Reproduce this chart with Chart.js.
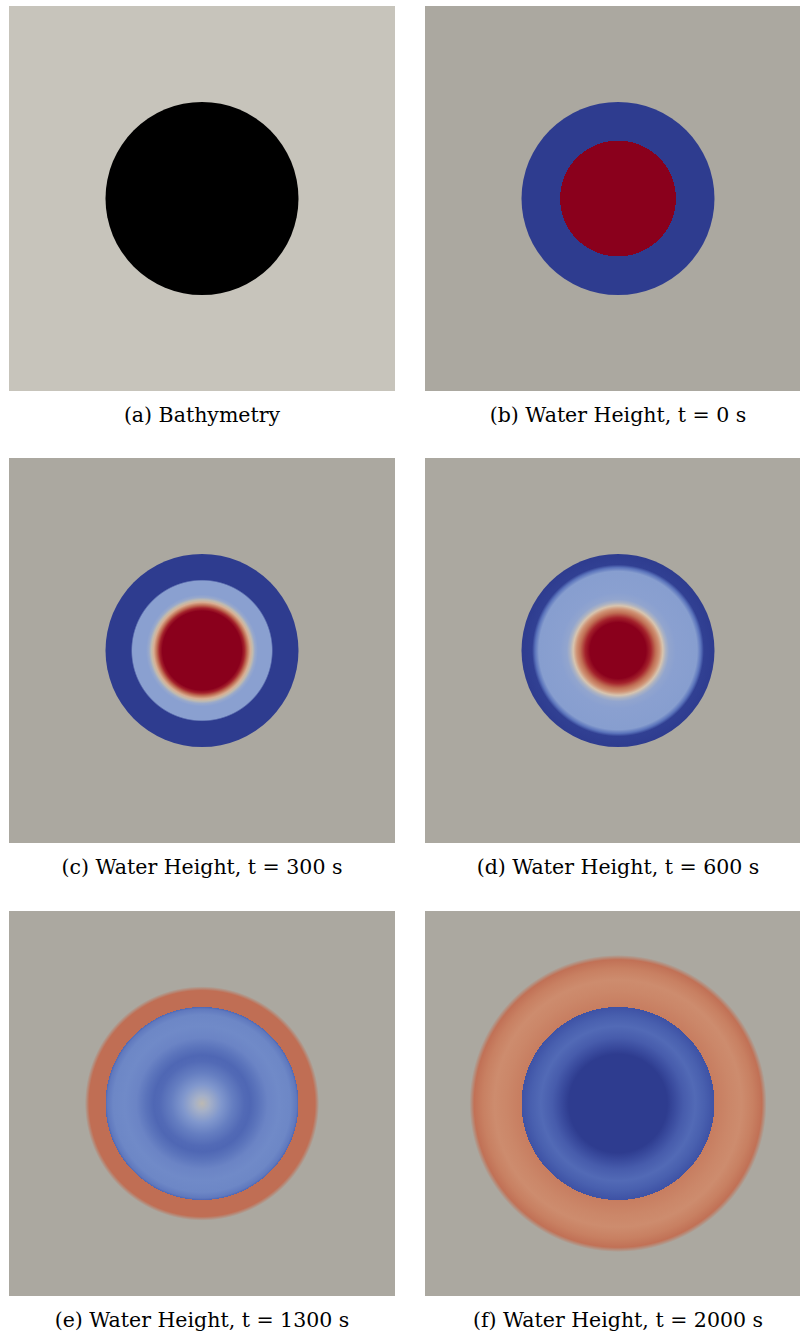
<!DOCTYPE html>
<html>
<head>
<meta charset="utf-8">
<title>Radially symmetric basin: bathymetry and water height</title>
<script src="https://cdn.jsdelivr.net/npm/chart.js@4/dist/chart.umd.min.js"></script>
<style>
  html, body { margin: 0; padding: 0; background: #ffffff; }
  body { position: relative; width: 800px; height: 1338px; overflow: hidden; }
  .panel { position: absolute; width: 386px; height: 385px; }
  .panel canvas { display: block; }
  .cap {
    position: absolute; width: 386px; text-align: center; white-space: nowrap;
    font-family: "DejaVu Serif", "Liberation Serif", serif; font-size: 20.5px;
    line-height: 26px; color: #000;
  }
</style>
</head>
<body>
<script>
// ---- data (radii in domain units, domain spans -1..1 on both axes) ----
const panelCaptions = [
  '(a) Bathymetry',
  '(b) Water Height, t = 0 s',
  '(c) Water Height, t = 300 s',
  '(d) Water Height, t = 600 s',
  '(e) Water Height, t = 1300 s',
  '(f) Water Height, t = 2000 s'
];

// bathymetry: circular basin (normalised depth)
const bathyR     = [0, 0.50];
const bathyDepth = [1, 1];

// normalised water height along the radius, per output time
const r_t0    = [0, 0.30, 0.30, 0.50];
const h_t0    = [1, 1, 0, 0];

const r_t300  = [0, 0.205, 0.220, 0.235, 0.250, 0.262, 0.275, 0.290, 0.360, 0.368, 0.50];
const h_t300  = [1, 1, 0.90, 0.75, 0.60, 0.50, 0.42, 0.38, 0.38, 0.0, 0.0];

const r_t600  = [0, 0.145, 0.170, 0.195, 0.215, 0.232, 0.248, 0.265, 0.300, 0.410, 0.430, 0.445, 0.50];
const h_t600  = [1, 1, 0.90, 0.76, 0.64, 0.54, 0.46, 0.40, 0.38, 0.37, 0.20, 0.02, 0.0];

const r_t1300 = [0, 0.04, 0.10, 0.16, 0.22, 0.25, 0.29, 0.34, 0.40, 0.46, 0.49, 0.50, 0.50, 0.585];
const h_t1300 = [0.49, 0.45, 0.34, 0.24, 0.17, 0.16, 0.20, 0.26, 0.28, 0.27, 0.22, 0.16, 0.76, 0.76];

const r_t2000 = [0, 0.255, 0.29, 0.34, 0.40, 0.45, 0.50, 0.50, 0.58, 0.64, 0.70, 0.745];
const h_t2000 = [0, 0, 0.06, 0.13, 0.17, 0.14, 0.10, 0.71, 0.68, 0.665, 0.70, 0.75];

// ---- styling ----
const landColor  = [199, 196, 187];
const groundGray = '#aba8a0';

// diverging blue -> neutral -> red map for water height
const heightMap = [
  [0.00, [46, 60, 143]],
  [0.10, [62, 82, 165]],
  [0.17, [82, 106, 182]],
  [0.28, [112, 138, 200]],
  [0.38, [138, 160, 208]],
  [0.45, [165, 176, 200]],
  [0.50, [194, 187, 174]],
  [0.56, [226, 200, 175]],
  [0.64, [208, 148, 118]],
  [0.70, [200, 128, 98]],
  [0.76, [192, 110, 84]],
  [0.85, [180, 60, 55]],
  [0.93, [155, 20, 38]],
  [1.00, [138, 0, 28]]
];

function rgba(c, a) {
  return 'rgba(' + Math.round(c[0]) + ',' + Math.round(c[1]) + ',' + Math.round(c[2]) + ',' + a + ')';
}

function heightColor(v, a) {
  for (let i = 1; i < heightMap.length; i++) {
    const [v1, c1] = heightMap[i];
    const [v0, c0] = heightMap[i - 1];
    if (v <= v1) {
      const t = (v - v0) / (v1 - v0);
      return rgba([0, 1, 2].map(k => c0[k] + (c1[k] - c0[k]) * t), a);
    }
  }
  return rgba(heightMap[heightMap.length - 1][1], a);
}

function depthColor(d, a) {
  return rgba(landColor.map(c => c * (1 - d)), a);
}

// pixel radius of a data-unit distance, through the x scale
function pixelRadius(chart, r) {
  const xs = chart.scales && chart.scales.x;
  if (!xs || !chart.chartArea) return NaN;
  return Math.abs(xs.getPixelForValue(r) - xs.getPixelForValue(0));
}

// radial fill built from a profile, positioned through the chart's scales
function radialFill(chart, rs, vs, colorFor, fade) {
  const total = rs[rs.length - 1] + fade;
  const R = pixelRadius(chart, total);
  const cx = chart.scales.x ? chart.scales.x.getPixelForValue(0) : NaN;
  const cy = chart.scales.y ? chart.scales.y.getPixelForValue(0) : NaN;
  if (![R, cx, cy].every(Number.isFinite) || R <= 0) return 'rgba(0,0,0,0)';
  const g = chart.ctx.createRadialGradient(cx, cy, 0, cx, cy, R);
  rs.forEach((r, i) => g.addColorStop(Math.min(1, r / total), colorFor(vs[i], 1)));
  if (fade > 0) g.addColorStop(1, colorFor(vs[vs.length - 1], 0));
  return g;
}

const backdrop = {
  id: 'backdrop',
  beforeDraw(chart, args, opts) {
    const a = chart.chartArea, c = chart.ctx;
    c.save();
    c.fillStyle = opts.color;
    c.fillRect(a.left, a.top, a.right - a.left, a.bottom - a.top);
    c.restore();
  }
};

function makePanel(left, top, caption, rs, vs, colorFor, bg, fade) {
  const box = document.createElement('div');
  box.className = 'panel';
  box.style.left = left + 'px';
  box.style.top = top + 'px';
  const cv = document.createElement('canvas');
  cv.width = 386; cv.height = 385;
  box.appendChild(cv);
  document.body.appendChild(box);

  const cap = document.createElement('div');
  cap.className = 'cap';
  cap.style.left = left + 'px';
  cap.style.top = (top + 396) + 'px';
  cap.textContent = caption;
  document.body.appendChild(cap);

  const outer = rs[rs.length - 1] + fade;
  new Chart(cv, {
    type: 'scatter',
    data: {
      datasets: [{
        data: [{ x: 0, y: 0 }],
        pointStyle: 'circle',
        pointBorderWidth: 0,
        pointRadius: ctx => {
          const p = pixelRadius(ctx.chart, outer);
          return Number.isFinite(p) ? p : 0;
        },
        pointBackgroundColor: ctx => radialFill(ctx.chart, rs, vs, colorFor, fade),
        clip: false
      }]
    },
    options: {
      responsive: false,
      animation: false,
      events: [],
      layout: { padding: 0 },
      scales: {
        x: { type: 'linear', min: -1, max: 1, display: false },
        y: { type: 'linear', min: -1, max: 1, display: false }
      },
      plugins: {
        legend: { display: false },
        tooltip: { enabled: false },
        backdrop: { color: bg }
      }
    },
    plugins: [backdrop]
  });
}

const colLeft = [9, 425];
const rowTop = [6, 458, 911];

makePanel(colLeft[0], rowTop[0], panelCaptions[0], bathyR, bathyDepth, depthColor, rgba(landColor, 1), 0);
makePanel(colLeft[1], rowTop[0], panelCaptions[1], r_t0, h_t0, heightColor, groundGray, 0);
makePanel(colLeft[0], rowTop[1], panelCaptions[2], r_t300, h_t300, heightColor, groundGray, 0);
makePanel(colLeft[1], rowTop[1], panelCaptions[3], r_t600, h_t600, heightColor, groundGray, 0);
makePanel(colLeft[0], rowTop[2], panelCaptions[4], r_t1300, h_t1300, heightColor, groundGray, 0.022);
makePanel(colLeft[1], rowTop[2], panelCaptions[5], r_t2000, h_t2000, heightColor, groundGray, 0.025);
</script>
</body>
</html>
